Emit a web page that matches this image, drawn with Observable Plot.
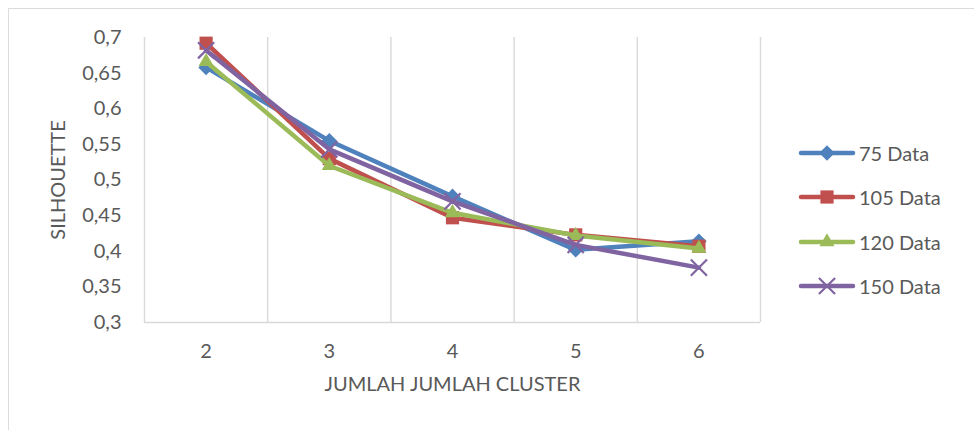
<!DOCTYPE html>
<html>
<head>
<meta charset="utf-8">
<script src="https://cdn.jsdelivr.net/npm/d3@7"></script>
<script src="https://cdn.jsdelivr.net/npm/@observablehq/plot@0.6"></script>
<style>
  body { margin: 0; background: #fff; }
  #wrap { position: relative; width: 974px; height: 430px; overflow: hidden; font-family: Lato, "Open Sans", sans-serif; color: #595959; }
  #frame { position: absolute; left: 8px; top: 8px; right: -2px; bottom: -2px; border-left: 1.5px solid #dcdcdc; border-top: 1.5px solid #dcdcdc; pointer-events: none; }
  #legend { position: absolute; left: 798px; top: 131px; }
  .item { display: flex; align-items: center; height: 44.3px; font-size: 20px; }
  .item svg { margin-right: 3px; }
</style>
</head>
<body>
<div id="wrap"><div id="frame"></div><div id="legend"></div></div>
<script>
// Silhouette score by number of clusters, per dataset size
const clusters = [2, 3, 4, 5, 6];
const seriesNames = ["75 Data", "105 Data", "120 Data", "150 Data"];
const data75  = [0.658, 0.555, 0.477, 0.402, 0.414];
const data105 = [0.692, 0.530, 0.447, 0.423, 0.407];
const data120 = [0.666, 0.520, 0.454, 0.422, 0.404];
const data150 = [0.682, 0.543, 0.470, 0.409, 0.377];
const yTicks = [0.3, 0.35, 0.4, 0.45, 0.5, 0.55, 0.6, 0.65, 0.7];

const seriesValues = [data75, data105, data120, data150];
const colors = ["#4F81BD", "#C0504D", "#9BBB59", "#8064A2"];
const symbols = ["diamond2", "square2", "triangle2", "times"];
const radii = [7, 8.4, 7.2, 7.4];

const rows = seriesValues.map((vals, i) =>
  clusters.map((c, j) => ({series: seriesNames[i], cluster: c, value: vals[j]}))
);

// category boundaries: vertical grid lines sit between the cluster counts
const bounds = clusters.map(c => c - 0.5).concat([clusters[clusters.length - 1] + 0.5]);
const comma = d => d3.format(".2~f")(d).replace(".", ",");

const marks = [
  Plot.ruleX(bounds, {stroke: "#d9d9d9", strokeWidth: 1.4}),
  Plot.ruleY([yTicks[0]], {stroke: "#d9d9d9", strokeWidth: 1.6}),
  Plot.axisY({ticks: yTicks, tickSize: 0, tickPadding: 23, tickFormat: comma,
    label: "SILHOUETTE", labelAnchor: "center", labelArrow: "none", labelOffset: 94}),
  Plot.axisX({ticks: clusters, tickSize: 0, tickPadding: 21, tickFormat: d => String(d),
    label: "JUMLAH JUMLAH CLUSTER", labelAnchor: "center", labelArrow: "none", labelOffset: 68})
];

rows.forEach((r, i) => {
  marks.push(Plot.line(r, {x: "cluster", y: "value", stroke: colors[i], strokeWidth: 4.5,
    strokeLinejoin: "round", strokeLinecap: "round"}));
  if (symbols[i] === "times") {
    marks.push(Plot.dot(r, {x: "cluster", y: "value", symbol: symbols[i], r: radii[i],
      stroke: colors[i], strokeWidth: 2.2}));
  } else {
    marks.push(Plot.dot(r, {x: "cluster", y: "value", symbol: symbols[i], r: radii[i],
      fill: colors[i], stroke: "none"}));
  }
});

const chart = Plot.plot({
  width: 974,
  height: 430,
  marginLeft: 144,
  marginRight: 214,
  marginTop: 37,
  marginBottom: 108,
  style: {fontFamily: "Lato, 'Open Sans', sans-serif", fontSize: "20px", color: "#595959", background: "transparent"},
  x: {type: "linear", domain: [bounds[0], bounds[bounds.length - 1]]},
  y: {domain: [yTicks[0], yTicks[yTicks.length - 1]]},
  marks
});
chart.style.position = "absolute";
chart.style.left = "0";
chart.style.top = "0";
const wrap = document.getElementById("wrap");
wrap.insertBefore(chart, wrap.firstChild);

// legend: line with marker, then series name
const legend = d3.select("#legend");
seriesNames.forEach((name, i) => {
  const item = legend.append("div").attr("class", "item");
  const svg = item.append("svg").attr("width", 58).attr("height", 22);
  svg.append("line").attr("x1", 3).attr("x2", 55).attr("y1", 11).attr("y2", 11)
    .attr("stroke", colors[i]).attr("stroke-width", 4.5).attr("stroke-linecap", "round");
  const symType = [d3.symbolDiamond2, d3.symbolSquare2, d3.symbolTriangle2, d3.symbolTimes][i];
  const path = svg.append("path")
    .attr("transform", "translate(29,11)")
    .attr("d", d3.symbol(symType, Math.PI * radii[i] * radii[i])());
  if (symbols[i] === "times") path.attr("fill", "none").attr("stroke", colors[i]).attr("stroke-width", 2.2);
  else path.attr("fill", colors[i]);
  item.append("span").text(name);
});
</script>
</body>
</html>
